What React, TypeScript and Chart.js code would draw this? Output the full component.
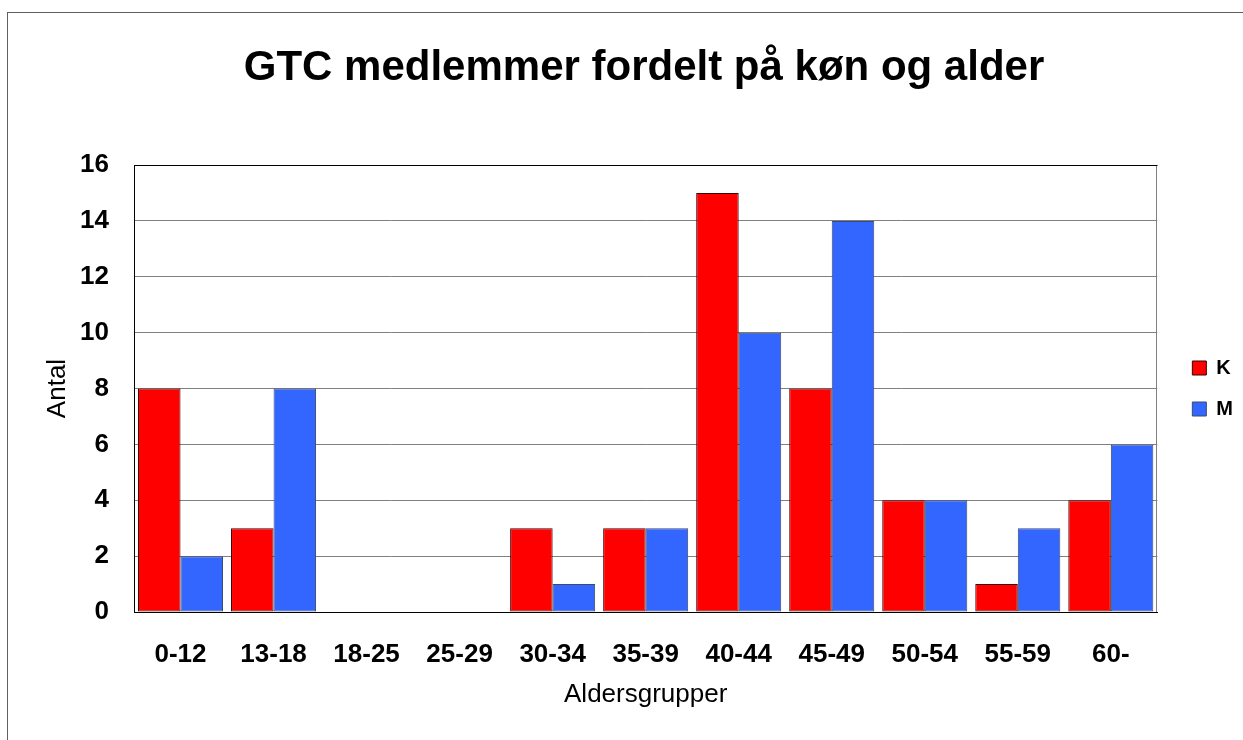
import { useEffect, useRef } from "react";
import { Chart, registerables } from "chart.js";

Chart.register(...registerables);

const categories = ["0-12", "13-18", "18-25", "25-29", "30-34", "35-39", "40-44", "45-49", "50-54", "55-59", "60-"];
const seriesK = [8, 3, 0, 0, 3, 3, 15, 8, 4, 1, 4];
const seriesM = [2, 8, 0, 0, 1, 3, 10, 14, 4, 3, 6];
const seriesNames = ["K", "M"];
const yMin = 0;
const yMax = 16;
const yStep = 2;
const titleText = "GTC medlemmer fordelt på køn og alder";
const xTitle = "Aldersgrupper";
const yTitle = "Antal";

const FONT = "'Liberation Sans', Arial, Helvetica, sans-serif";

const framePlugin = {
  id: "frame",
  beforeDraw(chart: any) {
    const ctx = chart.ctx;
    ctx.save();
    ctx.fillStyle = "#ffffff";
    ctx.fillRect(0, 0, chart.width, chart.height);
    ctx.strokeStyle = "#606060";
    ctx.lineWidth = 1;
    ctx.strokeRect(7.5, 12.5, chart.width + 20, chart.height + 20);
    ctx.fillStyle = "#000000";
    ctx.font = `bold 42px ${FONT}`;
    ctx.textAlign = "center";
    ctx.textBaseline = "alphabetic";
    ctx.fillText(titleText, 644, 80);
    ctx.restore();
  },
  afterDatasetsDraw(chart: any) {
    const { ctx, chartArea } = chart;
    ctx.save();
    ctx.lineWidth = 1;
    ctx.strokeStyle = "#808080";
    ctx.beginPath();
    ctx.moveTo(Math.round(chartArea.right) - 0.5, chartArea.top);
    ctx.lineTo(Math.round(chartArea.right) - 0.5, chartArea.bottom);
    ctx.stroke();
    ctx.strokeStyle = "#000000";
    ctx.beginPath();
    ctx.moveTo(chartArea.left, Math.round(chartArea.top) + 0.5);
    ctx.lineTo(chartArea.right, Math.round(chartArea.top) + 0.5);
    ctx.stroke();
    ctx.restore();
  },
};

export default function App() {
  const canvasRef = useRef<HTMLCanvasElement | null>(null);

  useEffect(() => {
    if (!canvasRef.current) return;
    const chart = new Chart(canvasRef.current, {
      type: "bar",
      data: {
        labels: categories,
        datasets: [
          {
            label: seriesNames[0],
            data: seriesK,
            backgroundColor: "#ff0000",
            borderColor: "#3a0000",
            borderWidth: 1,
            borderSkipped: false,
            categoryPercentage: 0.914,
            barPercentage: 1.0,
          },
          {
            label: seriesNames[1],
            data: seriesM,
            backgroundColor: "#3366ff",
            borderColor: "#3a4a70",
            borderWidth: 1,
            borderSkipped: false,
            categoryPercentage: 0.914,
            barPercentage: 1.0,
          },
        ],
      },
      options: {
        animation: false,
        responsive: true,
        maintainAspectRatio: false,
        layout: { padding: { top: 165, left: 8, right: 0, bottom: 0 } },
        plugins: {
          title: { display: false },
          tooltip: { enabled: false },
          legend: {
            display: true,
            position: "right",
            align: "center",
            fullSize: false,
            labels: {
              boxWidth: 14,
              boxHeight: 14,
              padding: 21,
              color: "#000",
              font: { family: FONT, size: 20, weight: "bold" },
            },
          },
        },
        scales: {
          x: {
            grid: { display: false, drawTicks: false },
            border: { display: true, color: "#000", width: 1 },
            ticks: {
              color: "#000",
              padding: 27,
              maxRotation: 0,
              font: { family: FONT, size: 26, weight: "bold" },
            },
            title: {
              display: true,
              text: xTitle,
              color: "#000",
              font: { family: FONT, size: 26 },
              padding: { top: 0, bottom: 30 },
            },
            afterFit: (s: any) => {
              s.height = 128;
            },
          },
          y: {
            min: yMin,
            max: yMax,
            grid: {
              drawTicks: false,
              color: (c: any) => (c.tick && (c.tick.value === yMin || c.tick.value === yMax) ? "#000" : "#808080"),
              lineWidth: 1,
            },
            border: { display: true, color: "#000", width: 1 },
            ticks: {
              stepSize: yStep,
              color: "#000",
              padding: 25,
              font: { family: FONT, size: 26, weight: "bold" },
            },
            title: {
              display: true,
              text: yTitle,
              color: "#000",
              font: { family: FONT, size: 26 },
              padding: { top: 34, bottom: 0 },
            },
            afterFit: (s: any) => {
              s.width = 126;
            },
          },
          y2: {
            position: "right",
            display: true,
            grid: { display: false, drawTicks: false },
            border: { display: false },
            ticks: { display: false },
            afterFit: (s: any) => {
              s.width = 14;
            },
          },
        },
      },
      plugins: [framePlugin],
    } as any);
    return () => chart.destroy();
  }, []);

  return (
    <div style={{ position: "fixed", left: 0, top: 0, width: 1243, height: 740, background: "#fff" }}>
      <canvas ref={canvasRef} />
    </div>
  );
}
